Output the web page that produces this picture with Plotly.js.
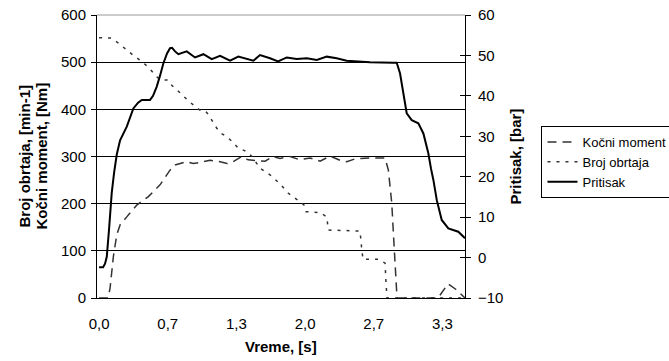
<!DOCTYPE html>
<html>
<head>
<meta charset="utf-8">
<script src="https://cdn.plot.ly/plotly-3.0.1.min.js"></script>
<style>html,body{margin:0;padding:0;background:#fff;}#chart{width:669px;height:361px;}</style>
</head>
<body>
<div id="chart"></div>
<script>
// Time axis ticks
const tickVals = [0, 0.6667, 1.3333, 2.0, 2.6667, 3.3333];
const tickText = ["0,0", "0,7", "1,3", "2,0", "2,7", "3,3"];

// Kočni moment [Nm] (left axis)
const momentT = [0, 0.087, 0.107, 0.139, 0.172, 0.204, 0.269, 0.366, 0.479, 0.592, 0.689, 0.738, 0.851, 0.916, 1.013, 1.078, 1.175, 1.243, 1.301, 1.385, 1.447, 1.524, 1.612, 1.689, 1.757, 1.854, 1.951, 2.049, 2.146, 2.243, 2.340, 2.405, 2.485, 2.631, 2.777, 2.809, 2.842, 2.857, 2.874, 2.893, 3.291, 3.388, 3.466, 3.553];
const momentV = [0, 0, 21, 88, 134, 155, 172, 197, 215, 240, 271, 282, 289, 285, 289, 292, 289, 285, 289, 300, 293, 292, 290, 300, 296, 300, 293, 297, 290, 301, 292, 289, 295, 297, 297, 271, 201, 140, 60, 0, 0, 30, 18, 0];

// Broj obrtaja [min-1] (left axis)
const rpmT = [0, 0.117, 0.184, 0.252, 0.330, 0.398, 0.476, 0.560, 0.592, 0.670, 0.706, 0.786, 0.883, 0.981, 1.029, 1.058, 1.143, 1.194, 1.240, 1.301, 1.350, 1.417, 1.485, 1.563, 1.660, 1.757, 1.838, 1.919, 1.951, 2.000, 2.010, 2.146, 2.211, 2.226, 2.534, 2.551, 2.563, 2.709, 2.777, 2.786, 2.796, 3.553];
const rpmV = [552, 551, 541, 528, 515, 504, 490, 469, 463, 462, 451, 435, 415, 398, 397, 390, 360, 348, 342, 330, 318, 312, 300, 275, 261, 242, 222, 209, 205, 195, 183, 181, 172, 144, 142, 102, 82, 82, 74, 32, 0, 0];

// Pritisak [bar] (right axis)
const presT = [0, 0.039, 0.058, 0.075, 0.097, 0.123, 0.146, 0.172, 0.204, 0.269, 0.333, 0.379, 0.415, 0.495, 0.524, 0.560, 0.592, 0.624, 0.660, 0.689, 0.709, 0.738, 0.770, 0.851, 0.932, 1.013, 1.094, 1.175, 1.272, 1.352, 1.498, 1.563, 1.660, 1.738, 1.822, 1.919, 2.017, 2.114, 2.211, 2.308, 2.405, 2.631, 2.857, 2.890, 2.922, 2.954, 2.987, 3.036, 3.100, 3.149, 3.197, 3.223, 3.246, 3.279, 3.327, 3.391, 3.488, 3.553];
const presV = [-2.4, -2.4, -1.5, 0.2, 7, 16, 21, 25.5, 29, 32.4, 36.9, 38.3, 39, 39, 40, 42.3, 45, 48, 50.5, 51.8, 51.9, 51, 50.3, 51.0, 49.5, 50.3, 49.1, 49.9, 48.7, 49.7, 48.7, 50.1, 49.3, 48.5, 49.5, 49.1, 49.3, 48.9, 49.7, 49.3, 48.7, 48.3, 48.2, 48.2, 45.6, 40.6, 35.7, 34, 33.2, 30.7, 25.8, 22, 19.2, 14.2, 9.3, 7.2, 6.4, 4.8];

const FONT = "Liberation Sans, Arial, sans-serif";

const traces = [
  {x: momentT, y: momentV, name: "Kočni moment", type: "scatter", mode: "lines",
   line: {color: "#333", width: 1.5, dash: "9px,6px"}, yaxis: "y"},
  {x: rpmT, y: rpmV, name: "Broj obrtaja", type: "scatter", mode: "lines",
   line: {color: "#333", width: 1.5, dash: "3px,6px"}, yaxis: "y"},
  {x: presT, y: presV, name: "Pritisak", type: "scatter", mode: "lines",
   line: {color: "#000", width: 2}, yaxis: "y2"},
  // empty helper trace so the crossing tick marks of the right axis are drawn
  {x: [], y: [], yaxis: "y3", showlegend: false, hoverinfo: "skip", type: "scatter", mode: "lines"}
];

const layout = {
  width: 669, height: 361,
  margin: {l: 97, r: 204, t: 15, b: 63, pad: 0},
  paper_bgcolor: "#fff", plot_bgcolor: "#fff",
  font: {family: FONT, size: 15, color: "#000"},
  showlegend: true,
  legend: {xref: "container", yref: "container", x: 0.8094, y: 0.651, xanchor: "left", yanchor: "top",
           bordercolor: "#000", borderwidth: 1, bgcolor: "#fff",
           font: {family: FONT, size: 13, color: "#000"},
           itemwidth: 30, tracegroupgap: 0},
  xaxis: {range: [-0.02, 3.553], tickvals: tickVals, ticktext: tickText,
          showline: true, linecolor: "#000", linewidth: 1, ticks: "",
          showgrid: false, zeroline: false, automargin: false,
          ticklabelstandoff: 12, tickfont: {family: FONT, size: 15}},
  yaxis: {range: [0, 600], dtick: 100, tick0: 0, showline: true, linecolor: "#000", linewidth: 1,
          ticks: "outside", ticklen: 5, tickcolor: "#000", showgrid: true, gridcolor: "#000", gridwidth: 1,
          zeroline: false, automargin: false, ticklabelstandoff: 2, tickfont: {family: FONT, size: 15}},
  yaxis2: {range: [-10, 60], dtick: 10, tick0: 0, overlaying: "y", side: "right", anchor: "x",
           showline: true, linecolor: "#000", linewidth: 1, ticks: "outside", ticklen: 5, tickcolor: "#000",
           showgrid: false, zeroline: false, automargin: false, ticklabelstandoff: 4,
           tickfont: {family: FONT, size: 15}},
  yaxis3: {range: [-10, 60], dtick: 10, tick0: 0, overlaying: "y", side: "right", anchor: "x",
           showline: false, ticks: "inside", ticklen: 5, tickcolor: "#000", showticklabels: false,
           showgrid: false, zeroline: false, automargin: false},
  shapes: [
    {type: "line", xref: "paper", yref: "paper", x0: 0, x1: 1, y0: 1, y1: 1,
     line: {color: "#999", width: 1}, layer: "above"}
  ],
  annotations: [
    {text: "<b>Vreme, [s]</b>", xref: "paper", yref: "paper", x: 0.5, y: -0.173,
     xanchor: "center", yanchor: "middle", showarrow: false, font: {family: FONT, size: 15}},
    {text: "<b>Broj obrtaja, [min-1]</b>", xref: "paper", yref: "paper",
     x: (24 - 97) / 368, y: 0.5, xanchor: "center", yanchor: "middle", textangle: -90, showarrow: false,
     font: {family: FONT, size: 15}},
    {text: "<b>Kočni moment, [Nm]</b>", xref: "paper", yref: "paper",
     x: (41 - 97) / 368, y: 0.5, xanchor: "center", yanchor: "middle", textangle: -90, showarrow: false,
     font: {family: FONT, size: 15}},
    {text: "<b>Pritisak, [bar]</b>", xref: "paper", yref: "paper", x: (515 - 97) / 368, y: 0.5,
     xanchor: "center", yanchor: "middle", textangle: -90, showarrow: false, font: {family: FONT, size: 15}}
  ]
};

Plotly.newPlot("chart", traces, layout, {staticPlot: true, displayModeBar: false});
</script>
</body>
</html>
